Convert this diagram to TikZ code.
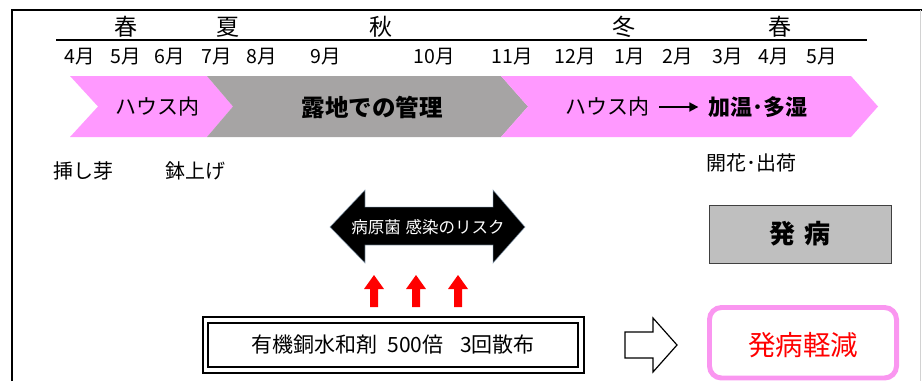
\documentclass[tikz,border=0pt]{standalone}
\usepackage{fontspec}
\setmainfont{Noto Sans CJK JP}
\usetikzlibrary{arrows.meta}
\newcommand{\fsz}[1]{\fontsize{#1bp}{#1bp}\selectfont}
\definecolor{chpink}{RGB}{255,153,255}
\definecolor{chgray}{RGB}{166,164,164}
\definecolor{boxgray}{RGB}{191,191,191}
\definecolor{rimpink}{RGB}{250,150,240}
\definecolor{glow}{RGB}{150,175,200}
\begin{document}
\begin{tikzpicture}[x=1bp,y=-1bp,
  txt/.style={inner sep=0pt,anchor=center},
  season/.style={txt,font=\fsz{23}},
  month/.style={txt,font=\fsz{19.5}},
  label/.style={txt,font=\fsz{20}},
  redarrow/.style={fill=red}]
\useasboundingbox (0,0) rectangle (922,381);
% frame
\draw[line width=1.5] (12,381) -- (12,10) -- (922,10);
\draw[gray!35,line width=1] (920,10) -- (920,381);
% seasons
\node[season] (s1) at (126,27) {春};
\node[season] (s2) at (228,27) {夏};
\node[season] (s3) at (381,27) {秋};
\node[season] (s4) at (624,27) {冬};
\node[season] (s5) at (780,27) {春};
\draw[line width=1.3] (56,40) -- (867,40);
% months
\node[month] (m4)  at (80,57)  {4月};
\node[month] (m5)  at (126,57) {5月};
\node[month] (m6)  at (170,57) {6月};
\node[month] (m7)  at (217,57) {7月};
\node[month] (m8)  at (262,57) {8月};
\node[month] (m9)  at (326,57) {9月};
\node[month] (m10) at (434,57) {10月};
\node[month] (m11) at (512,57) {11月};
\node[month] (m12) at (575,57) {12月};
\node[month] (m1)  at (630,57) {1月};
\node[month] (m2)  at (678,57) {2月};
\node[month] (m3)  at (728,57) {3月};
\node[month] (m4b) at (774,57) {4月};
\node[month] (m5b) at (822,57) {5月};
% chevrons
\fill[chpink] (70,76) -- (207,76) -- (233,106.5) -- (207,137) -- (70,137) -- (98,106.5) -- cycle;
\fill[chgray] (207,76) -- (501,76) -- (528,106.5) -- (501,137) -- (207,137) -- (233,106.5) -- cycle;
\fill[chpink] (501,76) -- (851,76) -- (878,106.5) -- (851,137) -- (501,137) -- (528,106.5) -- cycle;
\node[txt,font=\fsz{21}] (h1) at (157,107) {ハウス内};
\node[txt,font=\fsz{23.5}\bfseries] (roji) at (372,107) {露地での管理};
\node[txt,font=\fsz{21}] (h2) at (607,107) {ハウス内};
\node[txt,font=\fsz{22}\bfseries] (kw) at (758,107) {加温･多湿};
\draw[line width=1.8,-{Triangle[length=9,width=9]},shorten <=10,shorten >=10] (h2) -- (kw);
% stage labels
\node[label] (sashi) at (83,171) {挿し芽};
\node[label] (hachi) at (195,171) {鉢上げ};
\node[label] (kaika) at (751,163) {開花･出荷};
% black double arrow
\fill[black] (330,227) -- (365,190) -- (365,207) -- (493,207) -- (493,190) -- (525,227)
  -- (493,263) -- (493,245) -- (365,245) -- (365,263) -- cycle;
\draw[glow,line width=0.8,opacity=0.6] (330,227) -- (365,190) -- (365,207) -- (493,207) -- (493,190) -- (525,227)
  -- (493,263) -- (493,245) -- (365,245) -- (365,263) -- cycle;
\node[txt,font=\fsz{16.5},text=white] (risk) at (428,227) {病原菌\hspace{0.3em}感染のリスク};
% red arrows
\foreach \x in {374,416,458}{
  \fill[redarrow] (\x,275) -- (\x+10,289) -- (\x+4,289) -- (\x+4,307) -- (\x-4,307) -- (\x-4,289) -- (\x-10,289) -- cycle;
}
% spray box
\draw[line width=1.2] (203,317) rectangle (584,373);
\draw[line width=1.2] (208,323) rectangle (578,367);
\node[txt,font=\fsz{21}] (spray) at (393,345) {有機銅水和剤\hspace{0.5em}500倍\hspace{0.8em}3回散布};
% outline arrow
\draw[line width=1.2,fill=white] (625,332) -- (653,332) -- (653,318) -- (677,345) -- (653,372) -- (653,358) -- (625,358) -- cycle;
% disease box
\draw[fill=boxgray,draw=black!75,line width=1] (709,205) rectangle (891,263);
\node[txt,font=\fsz{26}\bfseries] (hatsu) at (800,234) {発\hspace{0.35em}病};
% reduced box
\draw[rimpink,line width=5,rounded corners=12] (709.5,307.5) rectangle (896.5,378);
\node[txt,font=\fsz{27.5},text=red] (keigen) at (803,345) {発病軽減};
\end{tikzpicture}
\end{document}
